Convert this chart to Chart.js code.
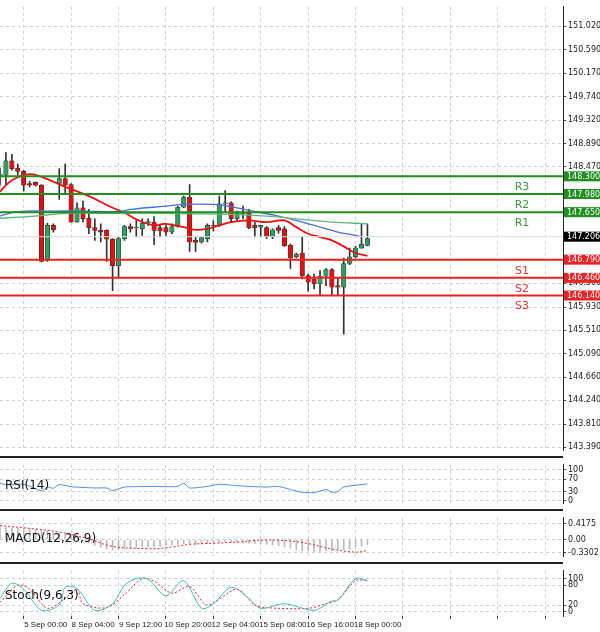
<!DOCTYPE html>
<html><head><meta charset="utf-8">
<script src="https://cdn.jsdelivr.net/npm/chart.js@4/dist/chart.umd.min.js"></script>
<style>
body{margin:0;background:#fff;width:600px;height:632px;overflow:hidden;font-family:"DejaVu Sans",sans-serif}
.p{position:absolute;left:0;width:600px}
.sep{position:absolute;left:0;width:563px;height:2px;background:#222}
</style></head><body>
<div class="p" style="top:0;height:457px"><canvas id="c1"></canvas></div>
<div class="p" style="top:458px;height:52px"><canvas id="c2"></canvas></div>
<div class="p" style="top:511px;height:52px"><canvas id="c3"></canvas></div>
<div class="p" style="top:564px;height:68px"><canvas id="c4"></canvas></div>
<div class="sep" style="top:456px"></div>
<div class="sep" style="top:509px"></div>
<div class="sep" style="top:562px"></div>
<script>
// candles: [open, high, low, close]
const candles=[
[148.32,148.45,148.14,148.34],[148.32,148.73,148.14,148.58],[148.58,148.70,148.41,148.44],[148.45,148.52,148.32,148.39],
[148.39,148.41,148.03,148.14],[148.17,148.21,148.11,148.14],[148.19,148.20,148.12,148.14],[148.14,148.15,146.75,146.76],
[146.78,147.45,146.76,147.41],[147.41,147.44,147.29,147.33],[148.17,148.44,147.88,148.26],[148.26,148.52,147.97,148.14],
[148.15,148.17,147.47,147.47],[147.47,147.82,147.47,147.73],[147.73,147.85,147.47,147.53],[147.54,147.70,147.26,147.37],
[147.37,147.53,147.14,147.32],[147.32,147.44,147.11,147.29],[147.32,147.33,146.76,147.16],[147.16,147.17,146.23,146.68],
[146.68,147.20,146.47,147.17],[147.17,147.41,147.14,147.39],[147.39,147.44,147.29,147.35],[147.37,147.50,147.20,147.38],
[147.35,147.53,147.23,147.45],[147.45,147.53,147.41,147.48],[147.47,147.57,147.06,147.32],[147.37,147.41,147.20,147.31],
[147.37,147.41,147.23,147.29],[147.29,147.44,147.26,147.39],[147.39,147.76,147.38,147.74],[147.74,147.94,147.73,147.92],
[147.92,148.15,146.94,147.11],[147.14,147.20,146.94,147.10],[147.11,147.20,147.09,147.19],[147.17,147.44,147.11,147.41],
[147.41,147.50,147.31,147.40],[147.41,147.94,147.39,147.80],[147.80,148.04,147.64,147.82],[147.82,147.84,147.47,147.53],
[147.53,147.67,147.50,147.63],[147.64,147.76,147.53,147.62],[147.63,147.70,147.35,147.37],[147.41,147.47,147.20,147.37],
[147.38,147.41,147.20,147.41],[147.37,147.39,147.17,147.20],[147.20,147.35,147.17,147.33],[147.37,147.41,147.27,147.32],
[147.35,147.39,147.03,147.04],[147.05,147.07,146.63,146.82],[146.84,146.91,146.82,146.89],[146.91,147.21,146.44,146.50],
[146.50,146.53,146.22,146.38],[146.44,146.53,146.26,146.35],[146.35,146.59,146.15,146.49],[146.49,146.63,146.32,146.61],
[146.61,146.63,146.15,146.29],[146.32,146.47,146.15,146.29],[146.29,146.82,145.44,146.72],[146.72,147.00,146.70,146.84],
[146.84,147.03,146.82,147.00],[147.00,147.44,147.00,147.07],[147.05,147.44,147.04,147.17]];
const maFastIdx=[0,2,5,7,11,15,19,21,23,26,28,31,33,35,37,39,42,45,48,50,52,54,56,58,60,62];
const maFast=[148.02,148.23,148.34,148.29,148.11,147.94,147.73,147.64,147.52,147.41,147.44,147.38,147.33,147.35,147.41,147.47,147.50,147.47,147.50,147.38,147.26,147.20,147.14,147.03,146.91,146.86];
const maMidIdx=[0,3,8,14,20,22,28,31,36,39,43,47,51,54,57,60,61];
const maMid=[147.58,147.66,147.67,147.67,147.66,147.70,147.76,147.79,147.79,147.75,147.66,147.58,147.47,147.38,147.29,147.23,147.20];
const maSlowIdx=[0,6,11,17,28,39,45,51,56,62];
const maSlow=[147.54,147.58,147.63,147.63,147.63,147.61,147.58,147.52,147.47,147.44];
const levelNames=["R3","R2","R1","S1","S2","S3"];
const levelValues=[148.30,147.98,147.65,146.79,146.46,146.14];
const currentPrice=147.206;
const priceTicks=[151.020,150.590,150.170,149.740,149.320,148.890,148.470,146.360,145.930,145.510,145.090,144.660,144.240,143.810,143.390];
const rsiIdx=[0,1,4,7,8,9,10,12,16,18,19,21,22,26,28,30,31,32,35,37,39,42,45,47,49,51,53,55,56,57,58,62];
const rsi=[57,53,54,33,45,41,53,46,42,42,34,45,46,47,46,47,57,42,47,54,51,47,45,47,37,28,27,37,28,30,45,55];
const macdMain=[0.33,0.32,0.31,0.30,0.30,0.29,0.28,0.26,0.24,0.20,0.16,0.12,0.08,0.04,-0.02,-0.08,-0.14,-0.20,-0.24,-0.26,-0.25,
-0.23,-0.22,-0.20,-0.19,-0.18,-0.18,-0.17,-0.15,-0.14,-0.12,-0.10,-0.10,-0.12,-0.11,-0.10,-0.08,-0.06,-0.05,-0.06,-0.07,
-0.08,-0.09,-0.10,-0.11,-0.12,-0.13,-0.15,-0.18,-0.22,-0.26,-0.28,-0.29,-0.30,-0.30,-0.29,-0.28,-0.27,-0.26,-0.24,-0.20,-0.16,-0.12];
const macdSigIdx=[0,6,10,15,19,25,28,32,36,40,44,48,52,56,60,62];
const macdSig=[0.37,0.28,0.20,0.02,-0.17,-0.23,-0.21,-0.12,-0.09,-0.06,-0.01,-0.02,-0.10,-0.24,-0.32,-0.28];
const stochKIdx=[0,2,4,7,10,11,13,16,19,21,23,25,28,31,34,36,39,42,44,48,53,56,57,60,62];
const stochK=[40,86,68,4,20,74,70,4,24,80,100,98,48,94,10,24,74,40,10,24,4,32,34,100,94];
const stochDIdx=[0,3,5,8,11,13,14,18,21,24,26,29,32,35,40,43,45,52,55,57,60,62];
const stochD=[28,80,68,10,40,68,24,12,52,100,92,56,76,20,68,20,12,10,24,36,94,94];
const timeTickIdx=[4,12,20,28,36,44,52,60,68,76,84,92];
const timeLabels=["5 Sep 00:00","8 Sep 04:00","9 Sep 12:00","10 Sep 20:00","12 Sep 04:00","15 Sep 08:00","16 Sep 16:00","18 Sep 00:00","","","",""];

const pts=(ix,v)=>ix.map((x,i)=>({x:x,y:v[i]}));
function xScale(showLabels){
  return {type:'linear',min:0,max:95,offset:false,
    afterBuildTicks:s=>{s.ticks=timeTickIdx.map(v=>({value:v}));},
    grid:{color:'#d0d0d0',drawTicks:showLabels,tickLength:3,tickColor:'#444',offset:false},border:{display:false,dash:[3,3]},
    afterFit:s=>{s.height=showLabels?16:0;},
    ticks:{display:showLabels,autoSkip:false,maxRotation:0,padding:1,labelOffset:22,color:'#222',font:{size:8,family:'Liberation Sans'},
      callback:(v)=>{const k=timeTickIdx.indexOf(v);return k>=0?timeLabels[k]:'';}}};
}
function yScale(min,max,ticks,labels){
  return {position:'right',min:min,max:max,
    afterBuildTicks:s=>{s.ticks=ticks.map(v=>({value:v}));},
    afterFit:s=>{s.width=37;},
    grid:{color:'#d0d0d0',tickLength:3,tickColor:'#444'},
    border:{display:true,color:'#222',width:1,dash:[3,3]},
    ticks:{autoSkip:false,padding:2,color:'#222',font:{size:8,family:'DejaVu Sans'},callback:(v)=>labels?labels(v):v}};
}
Chart.defaults.animation=false;
Chart.defaults.plugins.legend.display=false;
Chart.defaults.plugins.tooltip.enabled=false;
Chart.defaults.layout.padding=0;
Chart.defaults.maintainAspectRatio=false;
Chart.defaults.responsive=true;

const axisLine={id:'axisLine',afterDraw(c){const ctx=c.ctx,a=c.chartArea;ctx.save();ctx.strokeStyle='#222';ctx.lineWidth=1;ctx.beginPath();ctx.moveTo(a.right+0.5,a.top);ctx.lineTo(a.right+0.5,a.bottom);ctx.stroke();ctx.restore();}};
const levelPlugin={id:'levels',afterDatasetsDraw(c){
  const ctx=c.ctx,y=c.scales.y,a=c.chartArea;
  ctx.save();
  let yp=y.getPixelForValue(currentPrice);
  ctx.strokeStyle='#dcdcdc';ctx.lineWidth=1;ctx.beginPath();ctx.moveTo(a.left,yp);ctx.lineTo(a.right,yp);ctx.stroke();
  ctx.fillStyle='#000';ctx.fillRect(a.right+1,yp-5,36,10);
  ctx.fillStyle='#fff';ctx.font='8px DejaVu Sans';ctx.textBaseline='middle';ctx.fillText(currentPrice.toFixed(3),a.right+4,yp+0.5);
  levelNames.forEach((n,i)=>{
    const v=levelValues[i],yy=y.getPixelForValue(v),col=n[0]==='R'?'#1f8f1f':'#ee2222';
    ctx.strokeStyle=col;ctx.lineWidth=2;ctx.beginPath();ctx.moveTo(a.left,yy);ctx.lineTo(a.right,yy);ctx.stroke();
    ctx.fillStyle=col;ctx.fillRect(a.right+1,yy-5,36,10);
    ctx.fillStyle='#fff';ctx.font='8px DejaVu Sans';ctx.textBaseline='middle';ctx.fillText(v.toFixed(3),a.right+4,yy+0.5);
    ctx.fillStyle=n[0]==='R'?'#3a9a3a':'#ee3333';ctx.font='11px DejaVu Sans';ctx.textAlign='center';
    ctx.fillText(n,522,yy+11);ctx.textAlign='left';
  });
  ctx.restore();
}};
function labelPlugin(t){return {id:'lbl',afterDraw(c){const ctx=c.ctx;ctx.save();ctx.fillStyle='#111';ctx.font='12px DejaVu Sans';ctx.textBaseline='middle';ctx.fillText(t,5,(c.chartArea.top+c.chartArea.bottom)/2+2);ctx.restore();}};}

new Chart(document.getElementById('c1'),{type:'bar',
  data:{datasets:[
    {type:'line',data:pts(maSlowIdx,maSlow),borderColor:'#5cb87a',borderWidth:1.3,pointRadius:0,tension:0.4,order:1},
    {type:'line',data:pts(maMidIdx,maMid),borderColor:'#4a70e0',borderWidth:1.3,pointRadius:0,tension:0.4,order:1},
    {type:'line',data:pts(maFastIdx,maFast),borderColor:'#ee1111',borderWidth:1.8,pointRadius:0,tension:0.4,order:1},
    {data:candles.map((k,i)=>({x:i,y:[k[2],k[1]]})),backgroundColor:'#333',barThickness:1,grouped:false,order:3},
    {data:candles.map((k,i)=>({x:i,y:[k[0],k[3]===k[0]?k[0]+0.01:k[3]]})),backgroundColor:candles.map(k=>k[3]>=k[0]?'#2f9e60':'#e01010'),
     borderColor:'#333',borderWidth:0.6,borderSkipped:false,barThickness:4.5,grouped:false,order:2}
  ]},
  options:{scales:{x:xScale(false),y:yScale(143.337,151.372,priceTicks,v=>v.toFixed(3))}},
  plugins:[levelPlugin,axisLine]});

new Chart(document.getElementById('c2'),{type:'line',
  data:{datasets:[{data:pts(rsiIdx,rsi),borderColor:'#4a90e8',borderWidth:1,pointRadius:0,tension:0.2}]},
  options:{scales:{x:xScale(false),y:yScale(-7.1,116.7,[100,70,30,0])}},plugins:[labelPlugin('RSI(14)'),axisLine]});

new Chart(document.getElementById('c3'),{type:'bar',
  data:{datasets:[
    {type:'line',data:pts(macdSigIdx,macdSig),borderColor:'#ee2222',borderWidth:1,borderDash:[2,2],pointRadius:0,tension:0.4,order:1},
    {data:macdMain.map((v,i)=>({x:i,y:v})),backgroundColor:'#bbbbbb',barThickness:1,order:2}]},
  options:{scales:{x:xScale(false),y:yScale(-0.426,0.571,[0.4175,0,-0.3302],v=>v===0?'0.00':v)}},plugins:[labelPlugin('MACD(12,26,9)'),axisLine]});

new Chart(document.getElementById('c4'),{type:'line',
  data:{datasets:[
    {data:pts(stochKIdx,stochK),borderColor:'#40c0b0',borderWidth:1,pointRadius:0,tension:0.3},
    {data:pts(stochDIdx,stochD),borderColor:'#ee2222',borderWidth:1,borderDash:[2,2],pointRadius:0,tension:0.3}]},
  options:{scales:{x:xScale(true),y:yScale(-13.2,123.7,[100,80,20,0])}},plugins:[labelPlugin('Stoch(9,6,3)'),axisLine]});
</script></body></html>
